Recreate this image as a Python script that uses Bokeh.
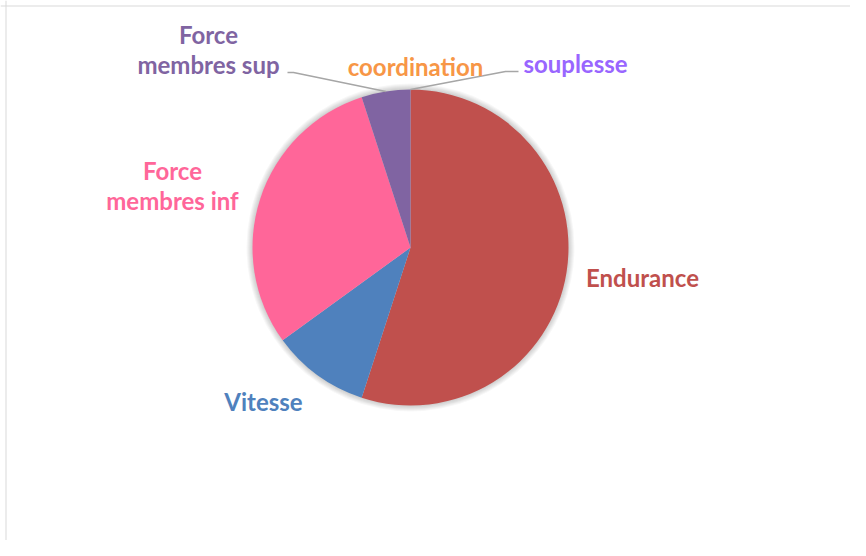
import math
from bokeh.plotting import figure
from bokeh.models import Range1d, Span, ColumnDataSource
from bokeh.core.properties import value
from bokeh.embed import file_html
from bokeh.resources import INLINE

# ---- data ----
categories = ["Endurance", "Vitesse", "Force membres inf", "Force membres sup", "coordination", "souplesse"]
values = [55, 10, 30, 5, 0, 0]
colors = ["#C0504D", "#4F81BD", "#FF6699", "#8064A2", "#F79646", "#9966FF"]
label_texts = ["Endurance", "Vitesse", "Force\nmembres inf", "Force\nmembres sup", "coordination", "souplesse"]

# ---- layout (pixel coordinates, y measured from top) ----
W, H = 850, 540
def Y(py):
    return H - py

cx, cy, R = 410, Y(247), 158
label_pos = [(642, 277), (263, 401), (172, 185), (208, 49), (415, 66), (575, 63)]
# leader lines: (label anchor, elbow) per category, None when no leader
leaders = [None, None, None, ((287, 72), (293, 72)), None, ((518, 71), (505, 71))]

p = figure(width=W, height=H, output_backend="svg", toolbar_location=None,
           x_range=Range1d(0, W), y_range=Range1d(0, H), min_border=0)
p.axis.visible = False
p.grid.visible = False
p.outline_line_color = None
p.background_fill_color = "white"
p.border_fill_color = "white"

# chart border (top and left visible)
p.add_layout(Span(location=5.5, dimension="height", line_color="#D9D9D9", line_width=1))
p.add_layout(Span(location=H - 5.5, dimension="width", line_color="#D9D9D9", line_width=1))

# soft shadow
for k in range(1, 7):
    p.circle(x=[cx], y=[cy], radius=R + k, fill_color="#000000", fill_alpha=0.03, line_color=None)

total = float(sum(values))
starts, ends, mids = [], [], []
acc = 0.0
for v in values:
    a0 = acc / total * 2 * math.pi
    acc += v
    a1 = acc / total * 2 * math.pi
    starts.append(math.pi / 2 - a0)
    ends.append(math.pi / 2 - a1)
    mids.append(math.pi / 2 - (a0 + a1) / 2)

idx = [i for i, v in enumerate(values) if v > 0]
src = ColumnDataSource(dict(
    start=[starts[i] for i in idx], end=[ends[i] for i in idx],
    color=[colors[i] for i in idx]))
p.wedge(x=cx, y=cy, radius=R, start_angle="start", end_angle="end", direction="clock",
        fill_color="color", line_color=None, source=src)

# leader lines
for i, ld in enumerate(leaders):
    if ld is None:
        continue
    (ax, ay), (ex, ey) = ld
    px = cx + R * math.cos(mids[i])
    py = cy + R * math.sin(mids[i])
    p.line(x=[ax, ex, px], y=[Y(ay), Y(ey), py], line_color="#A6A6A6", line_width=1.5)

# labels
for i, t in enumerate(label_texts):
    lx, ly = label_pos[i]
    p.text(x=[lx], y=[Y(ly)], text=[t], text_color=colors[i], text_font=value("Lato"),
           text_font_style="bold", text_font_size="24px", text_align="center",
           text_baseline="middle", text_line_height=1.05)

open("out.html", "w").write(file_html(p, INLINE))
